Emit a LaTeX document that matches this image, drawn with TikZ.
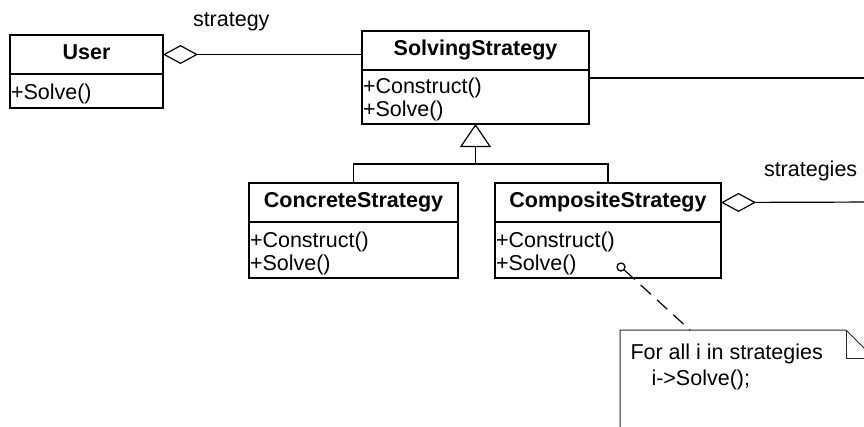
\documentclass[tikz,border=0pt]{standalone}
\usepackage{fontspec}
\setmainfont{Liberation Sans}
\usetikzlibrary{arrows.meta,calc}

\begin{document}
\begin{tikzpicture}[x=1pt,y=-1pt,
  txt/.style={font=\fontsize{21.5}{26}\selectfont, inner sep=0pt, outer sep=0pt},
  head/.style={draw, line width=1.8pt, anchor=north west, inner sep=0pt, outer sep=0pt,
    minimum height=39pt, text height=15pt, text depth=4.5pt,
    font=\fontsize{21.5}{26}\selectfont\bfseries},
  opsbox/.style={draw, line width=1.8pt, anchor=north west, inner sep=0pt, outer sep=0pt},
  op/.style={txt, anchor=base west},
  conn/.style={line width=1.2pt},
  aggr/.style={{Diamond[open,length=35pt,width=19pt]}-},
  inherit/.style={-{Triangle[open,length=23pt,width=31pt]}},
  notepath/.style={line width=1pt, draw=black!85}
]
\useasboundingbox (0,0) rectangle (864,426);
\fill[white] (0,0) rectangle (864,426);
\clip (0,0) rectangle (864,426);

% ---- User ----
\node[head, minimum width=153pt] (user) at (10,35) {User};
\node[opsbox, minimum width=153pt, minimum height=34pt] (user-ops) at (user.south west) {};
\node[op] (user-op1) at ($(user-ops.north west)+(1,25)$) {+Solve()};

% ---- SolvingStrategy ----
\node[head, minimum width=227pt] (ss) at (362,31) {SolvingStrategy};
\node[opsbox, minimum width=227pt, minimum height=54pt] (ss-ops) at (ss.south west) {};
\node[op] (ss-op1) at ($(ss-ops.north west)+(1,23)$) {+Construct()};
\node[op] (ss-op2) at ($(ss-ops.north west)+(1,46)$) {+Solve()};

% ---- ConcreteStrategy ----
\node[head, minimum width=209pt] (concrete) at (249,183) {ConcreteStrategy};
\node[opsbox, minimum width=209pt, minimum height=56pt] (concrete-ops) at (concrete.south west) {};
\node[op] (concrete-op1) at ($(concrete-ops.north west)+(1,25)$) {+Construct()};
\node[op] (concrete-op2) at ($(concrete-ops.north west)+(1,48)$) {+Solve()};

% ---- CompositeStrategy ----
\node[head, minimum width=226pt] (composite) at (495,183) {CompositeStrategy};
\node[opsbox, minimum width=226pt, minimum height=56pt] (composite-ops) at (composite.south west) {};
\node[op] (composite-op1) at ($(composite-ops.north west)+(1,25)$) {+Construct()};
\node[op] (composite-op2) at ($(composite-ops.north west)+(1,48)$) {+Solve()};

% ---- association labels ----
\node[txt, anchor=base west] (lbl-strategy) at (193,26) {strategy};
\node[txt, anchor=base west] (lbl-strategies) at (764,176) {strategies};

% ---- aggregation: User -> SolvingStrategy ----
\draw[conn, aggr] (user.east) -- (user.east -| ss.west);

% ---- SolvingStrategy outgoing association ----
\coordinate (ss-exit) at (880,78);
\draw[conn] (ss-ops.north east |- ss-exit) -- (ss-exit);

% ---- aggregation from CompositeStrategy ----
\coordinate (comp-exit) at (880,202);
\draw[conn, aggr] (composite.east) -- (comp-exit);

% ---- generalization ----
\coordinate (joint) at ($(ss-ops.south)+(0,40)$);
\draw[conn] (concrete.north) |- (joint) -| (composite.north);
\draw[conn, inherit] (joint) -- (ss-ops.south);

% ---- note ----
\coordinate (note-tl) at (620,330);
\coordinate (note-fold) at (846,330);
\coordinate (note-fold-in) at (846,358);
\coordinate (note-fold-out) at (874,358);
\draw[notepath] (620,440) -- (note-tl) -- (note-fold) -- (note-fold-out) -- (874,440);
\draw[notepath] (note-fold) -- (note-fold-in) -- (note-fold-out);
\node[txt, anchor=base west] (note-l1) at (630.5,359) {For all i in strategies};
\node[txt, anchor=base west] (note-l2) at (651.5,385) {i->Solve();};

% ---- note attachment ----
\node[circle, draw, line width=1.3pt, minimum size=8pt, inner sep=0pt] (attach) at (621,267) {};
\coordinate (note-attach) at (690,330);
\draw[conn, dash pattern=on 14pt off 8pt] (attach) -- (note-attach);

\end{tikzpicture}
\end{document}
